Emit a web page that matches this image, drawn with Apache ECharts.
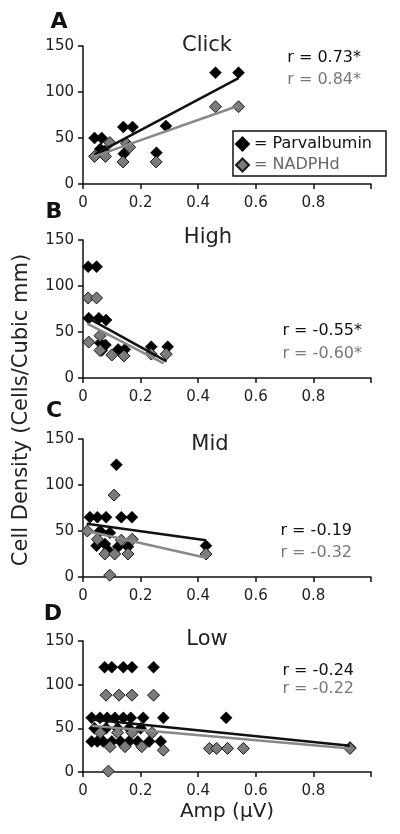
<!DOCTYPE html>
<html><head><meta charset="utf-8">
<script src="https://cdn.jsdelivr.net/npm/echarts@6/dist/echarts.min.js"></script>
<style>html,body{margin:0;padding:0;background:#fff}#c{width:400px;height:834px}</style>
</head><body><div id="c"></div>
<script>
// ---- text ----
const panelLetters = ['A', 'B', 'C', 'D'];
const panelTitles = ['Click', 'High', 'Mid', 'Low'];
const rParv = ['r = 0.73*', 'r = -0.55*', 'r = -0.19', 'r = -0.24'];
const rNadph = ['r = 0.84*', 'r = -0.60*', 'r = -0.32', 'r = -0.22'];
const seriesNames = ['Parvalbumin', 'NADPHd'];
const yAxisTitle = 'Cell Density (Cells/Cubic mm)';
const xAxisTitle = 'Amp (\u03bcV)';
// ---- tick labels ----
const yTickLabels = [0, 50, 100, 150];
const xTickLabels = [0, 0.2, 0.4, 0.6, 0.8];
const xAxisMax = 1.0;

// ---- data: [amp, density] ----
const parvA = [[0.04,50],[0.065,50],[0.06,38],[0.075,36],[0.14,62],[0.172,62],[0.142,33],[0.288,63],[0.255,34],[0.46,121],[0.54,121]];
const nadphA = [[0.04,30],[0.078,30],[0.093,45],[0.151,44],[0.162,40],[0.139,24],[0.254,24],[0.46,84],[0.54,84]];
const parvFitA = [[0.04,32],[0.54,115]];
const nadphFitA = [[0.04,30],[0.54,85]];

const parvB = [[0.018,121],[0.047,121],[0.02,65],[0.055,65],[0.08,63],[0.06,38],[0.078,36],[0.065,30],[0.122,31],[0.145,31],[0.237,34],[0.294,34]];
const nadphB = [[0.018,87],[0.047,87],[0.02,39],[0.059,46],[0.059,30],[0.1,25],[0.142,24],[0.237,26],[0.289,26]];
const parvFitB = [[0.018,65],[0.29,18]];
const nadphFitB = [[0.015,59],[0.28,16]];

const parvC = [[0.116,122],[0.024,65],[0.05,65],[0.08,65],[0.133,65],[0.17,65],[0.059,50],[0.093,48],[0.047,34],[0.076,36],[0.087,29],[0.122,33],[0.156,33],[0.427,34]];
const nadphC = [[0.108,89],[0.015,50],[0.05,41],[0.133,40],[0.171,41],[0.076,25],[0.11,25],[0.156,25],[0.093,2],[0.427,25]];
const parvFitC = [[0.013,58],[0.427,40]];
const nadphFitC = [[0.013,50],[0.427,21]];

const parvD = [[0.075,120],[0.1,120],[0.14,120],[0.17,120],[0.245,120],
  [0.03,62],[0.059,62],[0.084,62],[0.111,62],[0.14,62],[0.166,62],[0.209,62],[0.279,62],[0.497,62],
  [0.04,50],[0.08,50],[0.12,50],[0.16,50],[0.2,50],
  [0.03,35],[0.05,35],[0.07,35],[0.1,35],[0.13,35],[0.16,35],[0.19,35],[0.23,35],[0.27,35],
  [0.927,28]];
const nadphD = [[0.08,88],[0.125,88],[0.17,88],[0.245,88],
  [0.06,45],[0.12,45],[0.17,45],[0.24,45],
  [0.094,29],[0.146,29],[0.204,29],[0.279,25],
  [0.088,1],
  [0.439,27],[0.464,27],[0.502,27],[0.557,27],[0.927,27]];
const parvFitD = [[0.03,60],[0.927,30]];
const nadphFitD = [[0.03,53],[0.927,27]];

const parvData = [parvA, parvB, parvC, parvD];
const nadphData = [nadphA, nadphB, nadphC, nadphD];
const parvFits = [parvFitA, parvFitB, parvFitC, parvFitD];
const nadphFits = [nadphFitA, nadphFitB, nadphFitC, nadphFitD];

// ---- layout / style ----
const FONT = '"DejaVu Sans", Arial, sans-serif';
const gridTops = [46, 240, 439, 641];
const gridHeights = [138, 138, 138, 131];
const gridLeft = 83, gridWidth = 288;
const letterPos = [[59,22],[54,212],[54,411],[53,614]];
const titlePos = [[207,46],[208,238],[210,445],[207,640]];
const rPos = [[361,58,80],[362,331,354],[352,531,553],[354,671,689]];
const BLACK = '#111', GRAY = '#7b7b7b', GRAYTEXT = '#777';

const grids = [], xAxes = [], yAxes = [], series = [], graphics = [];
for (let i = 0; i < 4; i++) {
  grids.push({ left: gridLeft, top: gridTops[i], width: gridWidth, height: gridHeights[i] });
  xAxes.push({
    type: 'value', gridIndex: i, min: 0, max: xAxisMax, interval: xTickLabels[1] - xTickLabels[0],
    splitLine: { show: false },
    axisLine: { lineStyle: { color: '#111', width: 1.5 } },
    axisTick: { length: 5, lineStyle: { color: '#111', width: 1.5 } },
    axisLabel: { margin: 12, fontSize: 15, fontFamily: FONT, color: '#222',
      formatter: v => (xTickLabels.some(t => Math.abs(t - v) < 1e-9) ? String(+v.toFixed(1)) : '') },
    name: i === 3 ? xAxisTitle : '', nameLocation: 'middle', nameGap: 30,
    nameTextStyle: { fontSize: 20, fontFamily: FONT, color: '#222' }
  });
  yAxes.push({
    type: 'value', gridIndex: i, min: yTickLabels[0], max: yTickLabels[yTickLabels.length - 1],
    interval: yTickLabels[1] - yTickLabels[0],
    splitLine: { show: false },
    axisLine: { show: true, lineStyle: { color: '#111', width: 1.5 } },
    axisTick: { show: true, length: 5, lineStyle: { color: '#111', width: 1.5 } },
    axisLabel: { margin: 9, fontSize: 15, fontFamily: FONT, color: '#222' }
  });
  series.push({ name: seriesNames[0], type: 'scatter', xAxisIndex: i, yAxisIndex: i, data: parvData[i],
    symbol: 'diamond', symbolSize: 12, itemStyle: { color: '#000', borderColor: '#000', borderWidth: 0.5, opacity: 1 }, z: 2 });
  series.push({ name: seriesNames[1], type: 'scatter', xAxisIndex: i, yAxisIndex: i, data: nadphData[i],
    symbol: 'diamond', symbolSize: 12, itemStyle: { color: GRAY, borderColor: '#1a1a1a', borderWidth: 1, opacity: 1 }, z: 3 });
  series.push({ name: 'fitP' + i, type: 'line', xAxisIndex: i, yAxisIndex: i, data: parvFits[i],
    symbol: 'none', lineStyle: { color: BLACK, width: 2.5 }, z: 4 });
  series.push({ name: 'fitN' + i, type: 'line', xAxisIndex: i, yAxisIndex: i, data: nadphFits[i],
    symbol: 'none', lineStyle: { color: '#888', width: 2.5 }, z: 5 });

  graphics.push({ type: 'text', x: letterPos[i][0], y: letterPos[i][1],
    style: { text: panelLetters[i], font: 'bold 22px ' + FONT, fill: '#111', align: 'center', verticalAlign: 'middle' } });
  graphics.push({ type: 'text', x: titlePos[i][0], y: titlePos[i][1],
    style: { text: panelTitles[i], font: '21px ' + FONT, fill: '#222', align: 'center', verticalAlign: 'middle' } });
  graphics.push({ type: 'text', x: rPos[i][0], y: rPos[i][1],
    style: { text: rParv[i], font: '16px ' + FONT, fill: '#111', align: 'right', verticalAlign: 'middle' } });
  graphics.push({ type: 'text', x: rPos[i][0], y: rPos[i][2],
    style: { text: rNadph[i], font: '16px ' + FONT, fill: GRAYTEXT, align: 'right', verticalAlign: 'middle' } });
}
graphics.push({ type: 'text', x: 22, y: 410, rotation: Math.PI / 2,
  style: { text: yAxisTitle, font: '21px ' + FONT, fill: '#222', align: 'center', verticalAlign: 'middle' } });

const chart = echarts.init(document.getElementById('c'), null, { renderer: 'canvas' });
chart.setOption({
  animation: false,
  backgroundColor: '#fff',
  grid: grids, xAxis: xAxes, yAxis: yAxes, series: series, graphic: graphics,
  legend: {
    left: 233, top: 131, orient: 'vertical',
    borderColor: '#111', borderWidth: 1.5, padding: [5, 14, 3, 2], itemGap: 5,
    itemWidth: 13, itemHeight: 13,
    formatter: n => '= ' + n,
    textStyle: { fontSize: 16, fontFamily: FONT },
    data: [{ name: seriesNames[0], icon: 'diamond', textStyle: { color: '#111' } },
           { name: seriesNames[1], icon: 'diamond', textStyle: { color: '#666' } }]
  }
});
</script></body></html>
